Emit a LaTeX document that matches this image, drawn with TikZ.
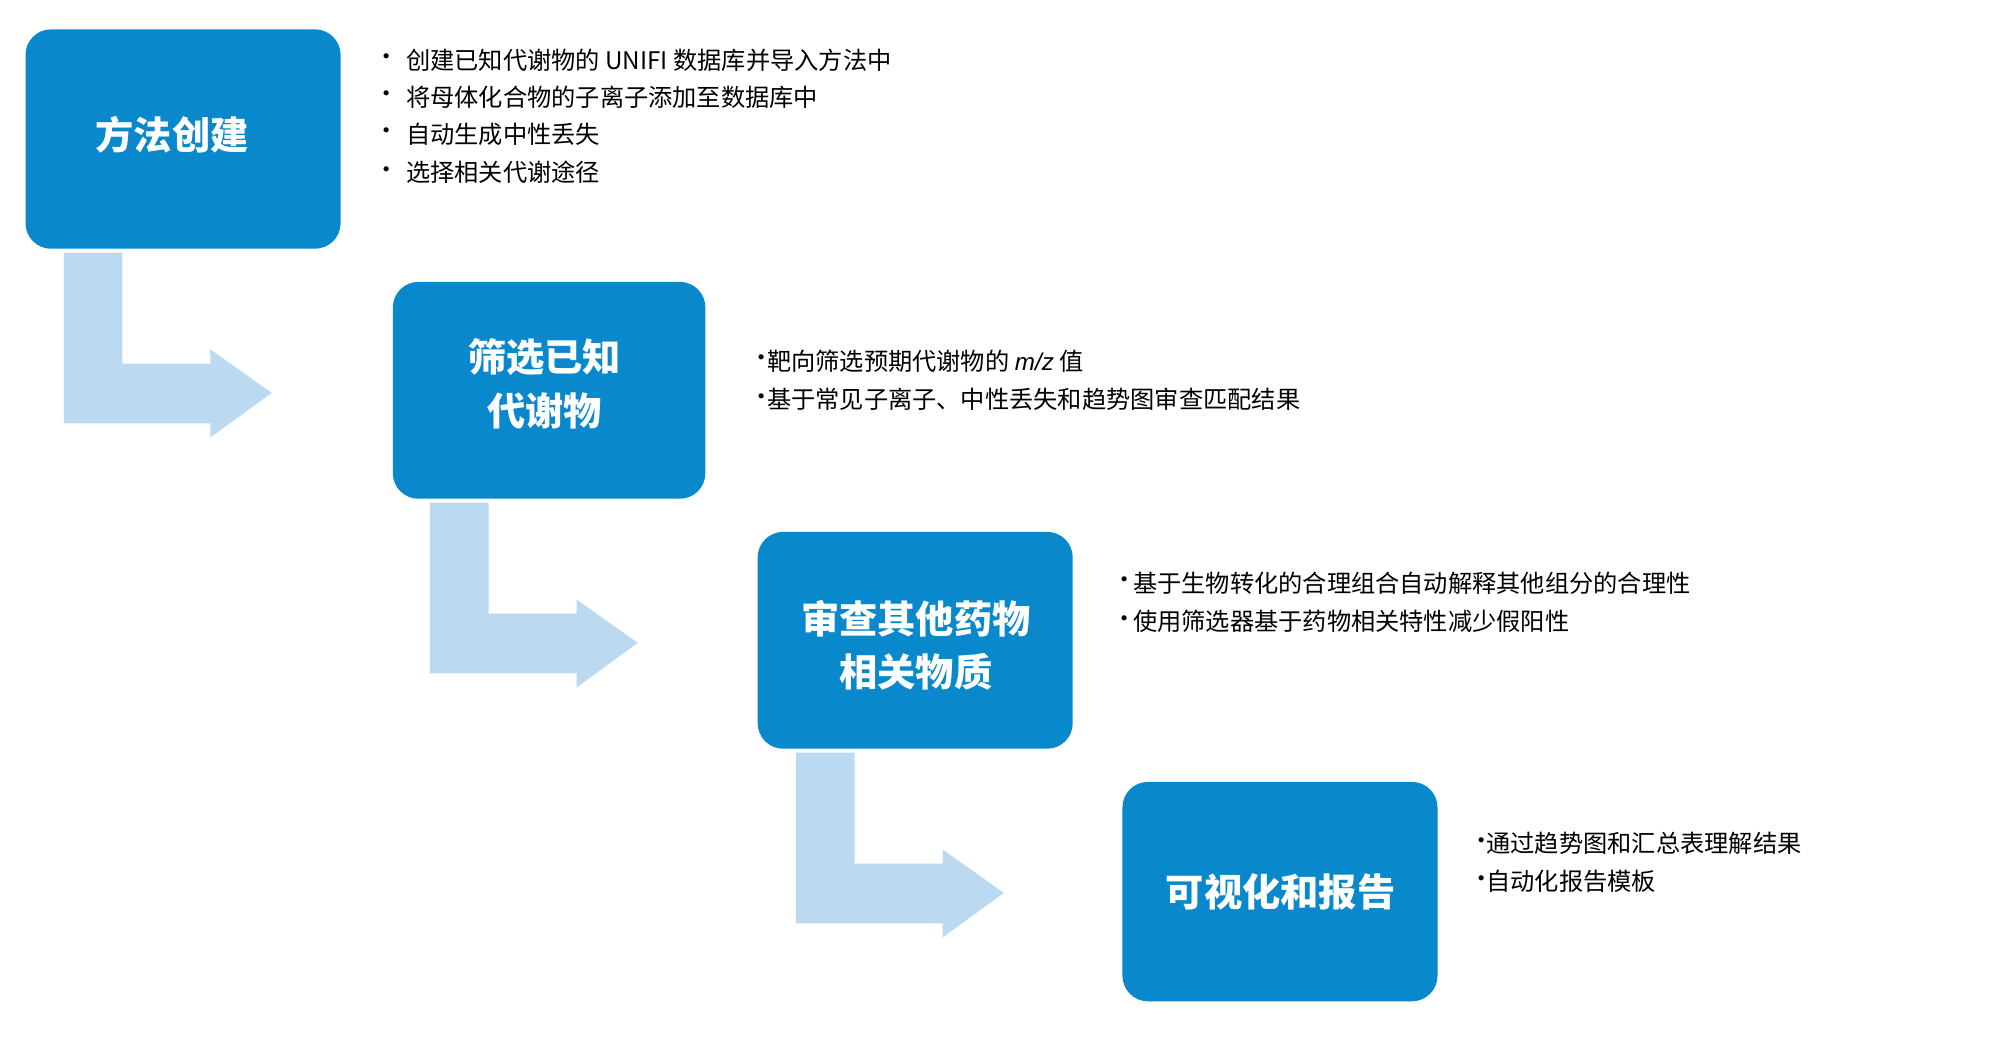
\documentclass[tikz,border=0pt]{standalone}
\usepackage{fontspec}
\setmainfont{Noto Sans CJK SC}
\newfontfamily\lat{Liberation Sans}
\definecolor{boxblue}{HTML}{0A88CC}
\definecolor{arrblue}{HTML}{BBDAF1}
\begin{document}
\begin{tikzpicture}[x=0.5pt,y=-0.5pt,
  stepbox/.style={fill=boxblue,rounded corners=10pt,text=white,font=\fontsize{15}{21}\selectfont\bfseries,align=center},
  bul/.style={anchor=west,font=\fontsize{9.5}{12}\selectfont,inner sep=0pt}]
\useasboundingbox (0,0) rectangle (1568,813);
\fill[white] (0,0) rectangle (1568,813);
\newcommand\flowarrow[2]{%
  \fill[arrblue] (#1+50,#2+198) -- (#1+96,#2+198) -- (#1+96,#2+285) -- (#1+165,#2+285) -- (#1+165,#2+274) -- (#1+213,#2+308) -- (#1+165,#2+343) -- (#1+165,#2+332) -- (#1+50,#2+332) -- cycle;}
\flowarrow{0}{0}
\flowarrow{287}{196}
\flowarrow{574}{392}
\fill[boxblue,rounded corners=10pt] (20,23) rectangle (267,195);
\node[stepbox] (b1) at (135,106) {方法创建};
\fill[boxblue,rounded corners=10pt] (308,221) rectangle (553,391);
\node[stepbox] (b2) at (427,301) {筛选已知\\代谢物};
\fill[boxblue,rounded corners=10pt] (594,417) rectangle (841,587);
\node[stepbox] (b3) at (718,506) {审查其他药物\\相关物质};
\fill[boxblue,rounded corners=10pt] (880,613) rectangle (1127,785);
\node[stepbox] (b4) at (1004,699) {可视化和报告};
\foreach \y/\t in {47/{创建已知代谢物的 UNIFI 数据库并导入方法中},76/{将母体化合物的子离子添加至数据库中},105/{自动生成中性丢失},135/{选择相关代谢途径}}{
  \node[bul] at (293,\y) {•};
  \node[bul] at (318,\y) {\t};}
\foreach \y/\t in {283/{靶向筛选预期代谢物的 {\lat\itshape m/z} 值},313/{基于常见子离子、中性丢失和趋势图审查匹配结果}}{
  \node[bul] at (587,\y) {•};
  \node[bul] at (601,\y) {\t};}
\foreach \y/\t in {457/{基于生物转化的合理组合自动解释其他组分的合理性},487/{使用筛选器基于药物相关特性减少假阳性}}{
  \node[bul] at (872,\y) {•};
  \node[bul] at (888,\y) {\t};}
\foreach \y/\t in {661/{通过趋势图和汇总表理解结果},691/{自动化报告模板}}{
  \node[bul] at (1152,\y) {•};
  \node[bul] at (1165,\y) {\t};}
\end{tikzpicture}
\end{document}
